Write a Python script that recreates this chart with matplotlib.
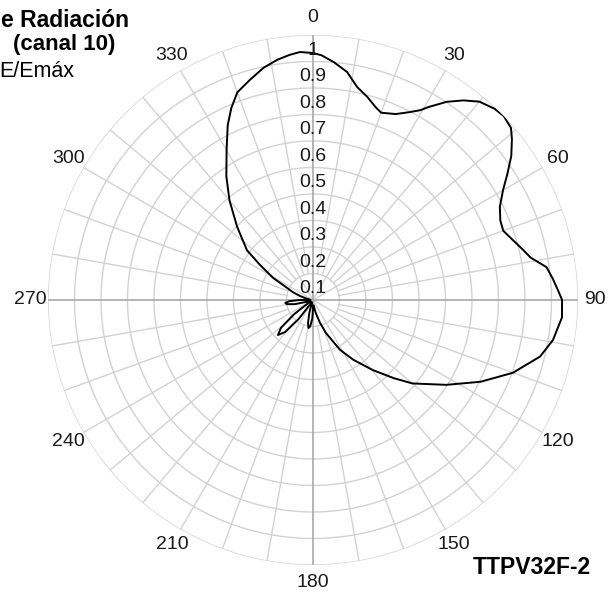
import matplotlib
matplotlib.use("Agg")
import matplotlib.pyplot as plt
import numpy as np

# Horizontal pattern, E/Emax vs azimuth (degrees, clockwise from north)
angles = [0, 2, 5, 8.5, 11.7, 15, 18, 20, 24, 27, 29.5, 31, 34, 37, 40, 43.5,
          46, 49, 51, 54, 57, 60, 63.5, 67, 70, 73, 76, 79, 82, 85, 88, 90, 94,
          99.5, 104, 110, 116, 122.5, 130, 134, 139.5, 146, 151.5, 158.5, 163,
          168, 174, 178, 182, 186, 189, 192, 196, 200, 206, 213, 217, 221, 225,
          229, 233, 237, 243, 249, 253, 257, 261, 264, 267, 270, 273, 280, 287,
          291, 295, 299, 303.5, 307, 314, 320, 325, 330, 334, 337, 340, 344,
          348, 351.5, 354.5, 357, 360]
field = [0.932, 0.924, 0.901, 0.870, 0.821, 0.793, 0.765, 0.752, 0.768, 0.795,
         0.823, 0.850, 0.902, 0.943, 0.977, 0.995, 1.0, 0.99, 0.966, 0.925,
         0.875, 0.828, 0.788, 0.768, 0.764, 0.785, 0.81, 0.837, 0.89, 0.909,
         0.927, 0.94, 0.942, 0.918, 0.883, 0.803, 0.704, 0.596, 0.49, 0.425,
         0.348, 0.272, 0.214, 0.134, 0.09, 0.05, 0.02, 0.02, 0.07, 0.10, 0.107,
         0.09, 0.05, 0.01, 0.01, 0.02, 0.09, 0.16, 0.187, 0.16, 0.09, 0.02,
         0.01, 0.01, 0.02, 0.07, 0.10, 0.105, 0.09, 0.05, 0.01, 0.02, 0.051,
         0.08, 0.108, 0.172, 0.24, 0.312, 0.398, 0.49, 0.57, 0.652, 0.734,
         0.788, 0.834, 0.864, 0.896, 0.916, 0.929, 0.937, 0.932]

ring_values = [0.1, 0.2, 0.3, 0.4, 0.5, 0.6, 0.7, 0.8, 0.9, 1.0]
ring_labels = ["0.1", "0.2", "0.3", "0.4", "0.5", "0.6", "0.7", "0.8", "0.9", "1"]
angle_ticks = [0, 30, 60, 90, 120, 150, 180, 210, 240, 270, 300, 330]

digits = ["Liberation Sans", "DejaVu Sans"]
grid_c = "#d2d2d2"
axis_c = "#a8a8a8"

fig = plt.figure(figsize=(6.12, 5.99), dpi=100)
ax = fig.add_axes([0.0784, 0.0568, 0.866, 0.8848], projection="polar")
ax.set_theta_zero_location("N")
ax.set_theta_direction(-1)
ax.set_ylim(0, 1)
ax.grid(False)
ax.set_xticks([])
ax.set_yticks([])
ax.spines["polar"].set_visible(False)

# rings
th = np.linspace(0, 2 * np.pi, 361)
for r in ring_values:
    ax.plot(th, np.full_like(th, r), color=grid_c, lw=1.0, zorder=1)

# spokes: every 10 deg from 0.1, every 30 deg from centre
for a in range(0, 360, 10):
    t = np.deg2rad(a)
    if a % 90 == 0:
        ax.plot([t, t], [0, 1], color=axis_c, lw=1.2, zorder=1.5)
    elif a % 30 == 0:
        ax.plot([t, t], [0, 1], color=grid_c, lw=1.0, zorder=1)
    else:
        ax.plot([t, t], [0.1, 1], color=grid_c, lw=1.0, zorder=1)

# pattern
ax.plot(np.deg2rad(angles), field, color="black", lw=1.4, zorder=3)

for r, lab in zip(ring_values, ring_labels):
    ax.text(0, r - 0.057, lab, ha="center", va="center", fontsize=14,
            family=digits, color="#1a1a1a", zorder=4)

for a in angle_ticks:
    ax.text(np.deg2rad(a), 1.065, str(a), ha="center", va="center",
            fontsize=14, family=digits, color="#1a1a1a", clip_on=False)

title_font = ["Liberation Sans", "DejaVu Sans"]
fig.text(1 / 612, 1 - 27 / 599, "e Radiación", fontsize=16.5, weight="bold",
         family=title_font, va="baseline", ha="left")
fig.text(13 / 612, 1 - 50 / 599, "(canal 10)", fontsize=16, weight="bold",
         family=title_font, va="baseline", ha="left")
fig.text(-1 / 612, 1 - 77 / 599, "E/Emáx", fontsize=15.5,
         family=title_font, va="baseline", ha="left")
fig.text(473 / 612, 1 - 574 / 599, "TTPV32F-2", fontsize=16.5, weight="bold",
         family=title_font, va="baseline", ha="left")

fig.savefig("out.png", dpi=100)
